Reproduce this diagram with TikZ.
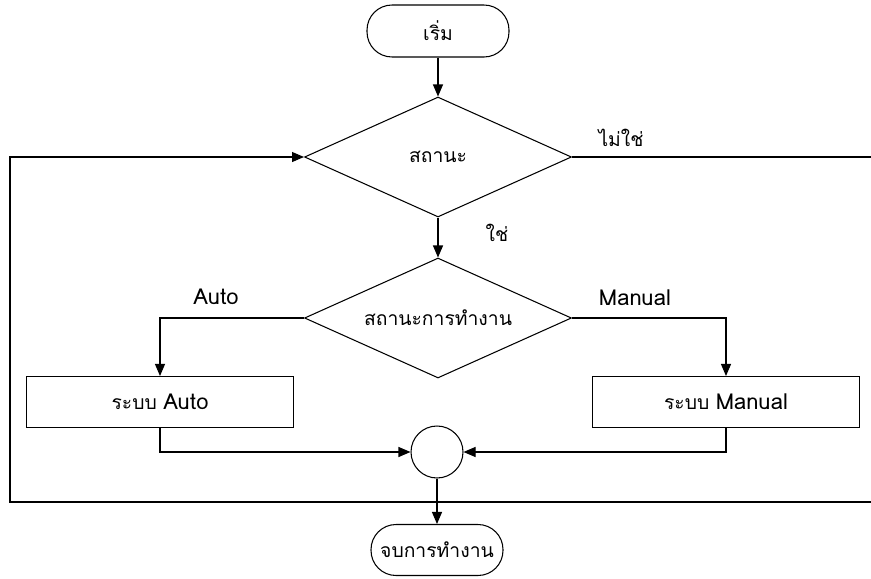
\documentclass[tikz,border=0pt]{standalone}
\usepackage{fontspec}
\usepackage{tikz}
\usetikzlibrary{shapes.geometric,arrows.meta}
\newfontfamily\thaifont[Script=Thai]{Loma}
\newcommand{\lat}[1]{{\fontsize{12.5}{14}\selectfont #1}}

\tikzset{
  term/.style={draw, rounded corners=0.5cm, minimum width=2.84cm, minimum height=1.04cm, inner sep=0pt},
  decision/.style={draw, diamond, aspect=2.2, minimum width=5.34cm, minimum height=2.4cm, inner sep=0pt},
  process/.style={draw, rectangle, minimum width=5.34cm, minimum height=1.02cm, inner sep=0pt},
  junction/.style={draw, circle, minimum size=1.04cm, inner sep=0pt},
  flow/.style={-{Triangle[length=0.24cm,width=0.2cm]}},
  every node/.style={font=\thaifont\fontsize{11}{13}\selectfont},
}

\begin{document}
\begin{tikzpicture}[x=0.02cm, y=-0.02cm, line width=0.6pt]
      \clip (0,0) rectangle (871,578);

      \node[term] (start) at (438,31) {เริ่ม};
      \node[decision] (status) at (438,157) {สถานะ};
      \node[decision] (mode) at (438,318) {สถานะการทำงาน};
      \node[process] (auto) at (160,402) {ระบบ \lat{Auto}};
      \node[process] (manual) at (726,402) {ระบบ \lat{Manual}};
      \node[junction] (join) at (437,452) {};
      \node[term, minimum width=2.64cm, minimum height=1.02cm] (stop) at (437,550) {จบการทำงาน};

      % loop back when the answer is no
      \coordinate (loopR) at (900,157);
      \coordinate (loopRB) at (900,502);
      \coordinate (loopLB) at (10,502);
      \coordinate (loopL) at (10,157);

      \draw[flow] (start) -- (status);
      \draw[flow] (status) -- (mode);
      \draw[flow] (mode.west) -| (auto.north);
      \draw[flow] (mode.east) -| (manual.north);
      \draw[flow] (auto.south) |- (join.west);
      \draw[flow] (manual.south) |- (join.east);
      \draw[flow] (join) -- (stop);
      \draw[flow] (status.east) -- (loopR) -- (loopRB) -- (loopLB) -- (loopL) -- (status.west);

      \node (no) at (621,138) {ไม่ใช่};
      \node (yes) at (497,233) {ใช่};
      \node (lauto) at (216,297) {\lat{Auto}};
      \node (lmanual) at (635,298) {\lat{Manual}};
\end{tikzpicture}
\end{document}
